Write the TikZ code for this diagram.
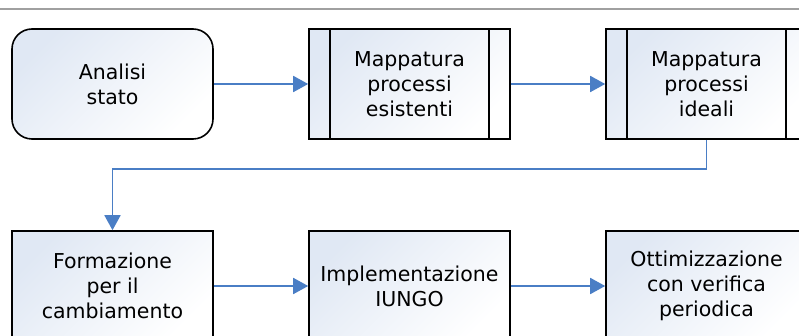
\documentclass[tikz,border=0pt]{standalone}
\usepackage{fontspec}
\setmainfont{DejaVu Sans}
\usetikzlibrary{arrows.meta}

\definecolor{flowblue}{RGB}{74,126,197}
\definecolor{boxtint}{RGB}{224,232,244}
\definecolor{rulegray}{RGB}{160,160,160}

\begin{document}
\begin{tikzpicture}[x=1pt,y=-1pt,
    box/.style={draw=black,line width=1.6pt,minimum width=201pt,minimum height=110pt,
      inner sep=0pt,align=center,top color=boxtint,bottom color=white,shading angle=45,
      font=\fontsize{20.5}{25}\selectfont},
    startbox/.style={box,rounded corners=20pt},
    flow/.style={draw=flowblue,line width=1.8pt,-{Triangle[length=15pt,width=16pt]}}]
  \useasboundingbox (0,0) rectangle (799,336);
  \clip (0,0) rectangle (799,336);

  \draw[rulegray,line width=2pt] (0,9) -- (799,9);

  % first row
  \node[startbox] (analisi) at (112.5,84) {Analisi\\stato};
  \node[box] (esistenti) at (409.5,84) {Mappatura\\processi\\esistenti};
  \node[box] (ideali) at (706.5,84) {Mappatura\\processi\\ideali};

  % second row
  \node[box] (formazione) at (112.5,286) {Formazione\\per il\\cambiamento};
  \node[box] (iungo) at (409.5,286) {Implementazione\\IUNGO};
  \node[box] (ottimizza) at (706.5,286) {Ottimizzazione\\con verifica\\periodica};

  % side bars of the process boxes
  \foreach \n in {esistenti,ideali} {
    \draw[line width=1.6pt] ([xshift=22pt]\n.north west) -- ([xshift=22pt]\n.south west);
    \draw[line width=1.6pt] ([xshift=-22pt]\n.north east) -- ([xshift=-22pt]\n.south east);
  }

  \draw[flow] (analisi) -- (esistenti);
  \draw[flow] (esistenti) -- (ideali);
  \draw[flow] (ideali.south) -- ++(0,29) -| (formazione.north);
  \draw[flow] (formazione) -- (iungo);
  \draw[flow] (iungo) -- (ottimizza);
\end{tikzpicture}
\end{document}
